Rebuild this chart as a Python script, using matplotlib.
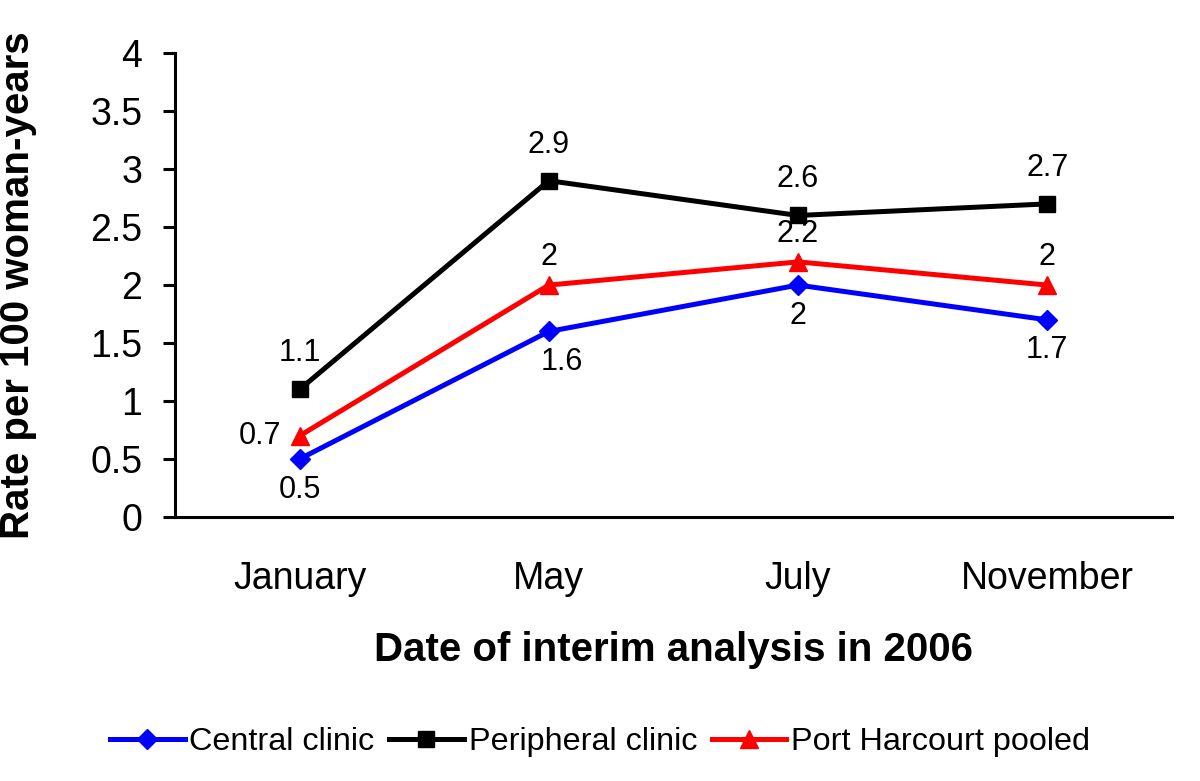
import matplotlib.pyplot as plt

plt.rcParams['font.family'] = ['Liberation Sans', 'DejaVu Sans']

# Data
months = ["January", "May", "July", "November"]
central = [0.5, 1.6, 2.0, 1.7]
peripheral = [1.1, 2.9, 2.6, 2.7]
pooled = [0.7, 2.0, 2.2, 2.0]

x = list(range(len(months)))

fig = plt.figure(figsize=(12, 7.81), dpi=100)
ax = fig.add_axes([0.1458, 0.338, 0.8308, 0.594])

ax.plot(x, central, color="#0000ff", lw=3.6, marker="D", ms=10, label="Central clinic")
ax.plot(x, peripheral, color="black", lw=3.6, marker="s", ms=11, label="Peripheral clinic")
ax.plot(x, pooled, color="#ff0000", lw=3.6, marker="^", ms=13, label="Port Harcourt pooled")

# Value labels
fs = 22
for i, v in enumerate(peripheral):
    ax.annotate(f"{v:g}", (x[i], v), xytext=(0, 26), textcoords="offset points",
                ha="center", va="center", fontsize=fs)
for i, v in enumerate(pooled):
    if i == 0:
        ax.annotate(f"{v:g}", (x[i], v), xytext=(-13, 0), textcoords="offset points",
                    ha="right", va="center", fontsize=fs)
    else:
        ax.annotate(f"{v:g}", (x[i], v), xytext=(0, 20), textcoords="offset points",
                    ha="center", va="center", fontsize=fs)
for i, v in enumerate(central):
    dx = 9 if i == 1 else 0
    ax.annotate(f"{v:g}", (x[i], v), xytext=(dx, -22), textcoords="offset points",
                ha="center", va="center", fontsize=fs)

ax.set_xlim(-0.5, 3.5)
ax.set_ylim(0, 4)
ax.set_yticks([0, 0.5, 1, 1.5, 2, 2.5, 3, 3.5, 4])
ax.set_yticklabels(["0", "0.5", "1", "1.5", "2", "2.5", "3", "3.5", "4"])
ax.set_xticks(x)
ax.set_xticklabels(months)

for s in ["top", "right"]:
    ax.spines[s].set_visible(False)
for s in ["left", "bottom"]:
    ax.spines[s].set_linewidth(2.2)

ax.tick_params(axis="y", length=8.5, width=2.2, pad=15, labelsize=27)
ax.tick_params(axis="x", length=0, pad=32, labelsize=27)

ax.set_xlabel("Date of interim analysis in 2006", fontsize=29, fontweight="bold")
ax.xaxis.set_label_coords(0.5, -0.245)
ax.set_ylabel("Rate per 100 woman-years", fontsize=29, fontweight="bold")
ax.yaxis.set_label_coords(-0.138, 0.5)

fig.legend(loc="center", bbox_to_anchor=(0.5, 0.05), ncol=3, frameon=False,
           fontsize=23.3, handlelength=2.3, handletextpad=0.15, columnspacing=0.45)

fig.savefig("out.png", dpi=100)
